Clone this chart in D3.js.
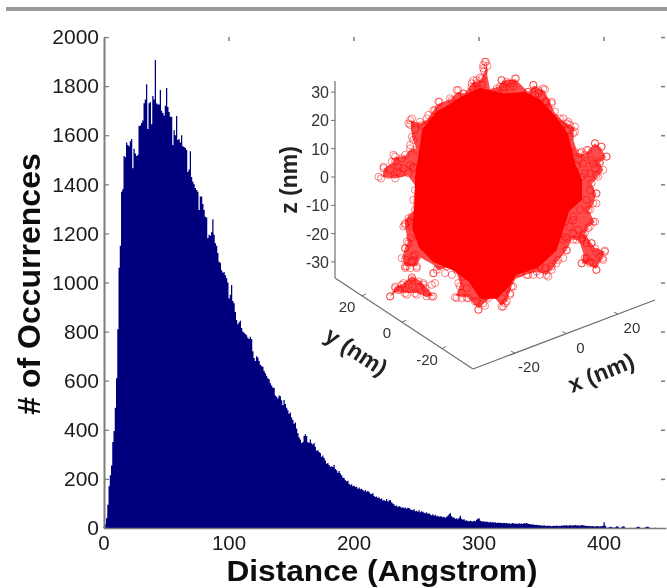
<!DOCTYPE html>
<html><head><meta charset="utf-8">
<script src="https://cdn.jsdelivr.net/npm/d3@7"></script>
<style>html,body{margin:0;padding:0;background:#fff}svg{display:block}text{font-family:"Liberation Sans",Arial,sans-serif}</style>
</head><body><svg id="c" width="667" height="588"></svg>
<script>
const binCounts=[5,15,40,95,170,215,255,350,395,490,610,810,1060,1150,1370,1380,1515,1510,1570,1560,
1555,1575,1585,1465,1545,1525,1515,1520,1637,1640,1650,1660,1730,1745,1808,1625,1730,1735,1645,1760,
1745,1906,1730,1725,1725,1784,1700,1690,1680,1720,1792,1715,1695,1675,1675,1560,1620,1600,1678,1580,
1585,1570,1600,1555,1552,1548,1540,1450,1460,1535,1430,1410,1400,1385,1377,1370,1295,1350,1350,1320,
1295,1268,1265,1180,1195,1190,1205,1258,1195,1160,1150,1120,1085,1080,1050,1040,1043,1030,1018,1000,
935,950,990,925,915,880,847,830,838,844,815,800,795,790,785,775,770,779,770,720,
692,680,700,695,680,665,660,657,640,630,620,610,606,590,580,572,570,540,535,528,
540,537,520,500,521,505,490,480,465,470,450,440,425,430,405,386,370,360,346,350,
375,382,375,350,346,360,345,340,346,330,315,318,310,305,290,295,285,275,262,265,
257,250,252,248,257,240,235,225,232,222,215,205,204,195,190,192,180,175,178,170,
172,167,168,160,165,158,160,155,150,155,148,152,147,140,138,142,130,126,128,122,
125,118,120,112,114,110,118,108,112,114,105,100,96,90,92,86,90,87,82,85,
80,84,78,82,81,75,74,72,76,68,70,66,72,64,68,66,62,60,64,58,
60,55,52,56,50,54,48,50,46,48,47,44,46,42,46,50,56,60,48,44,
42,38,40,36,42,50,38,34,36,30,32,28,27,30,28,26,30,28,34,38,
40,30,28,26,27,24,26,24,22,25,22,24,21,23,20,22,20,21,20,19,
21,19,20,18,19,17,18,20,18,17,18,16,19,17,18,16,20,18,20,17,
16,15,14,15,13,12,13,11,12,10,10,9,11,9,8,10,8,9,7,8,
9,8,10,7,9,8,10,9,11,10,11,9,10,12,9,11,10,12,10,11,
9,10,12,11,10,9,8,9,7,8,7,8,6,7,7,8,6,7,7,9,
23,9,2,1,3,5,4,1,2,3,7,6,2,0,3,7,6,1,0,0,
0,1,0,0,1,0,3,5,5,1,0,0,1,2,5,5,3,0,0,0,
0,1,0,0,0,0,0,0,0,0];
const xTickValues=[0,100,200,300,400];
const yTickValues=[0,200,400,600,800,1000,1200,1400,1600,1800,2000];
const zTickValues=[-30,-20,-10,0,10,20,30];
const floorXTicks=[-20,0,20];
const floorYTicks=[-20,0,20];
const xTitle="Distance (Angstrom)";
const yTitle="# of Occurrences";
const coreOutline=[[-26.5,0],[-25,9.5],[-24,16.6],[-19,23],[-13,26.5],[-10,28.5],[-3.5,31.5],[4.7,29.5],[12.4,30],[17.6,27.5],[23.5,21],[27.5,15.4],[29,9.5],[30,4.8],[32.5,-1],[32.5,-8.1],[28,-12],[25.5,-19.9],[23.5,-26],[17,-32],[9.4,-34.5],[6.5,-39],[2.4,-43],[-3.5,-43],[-7.5,-37],[-13,-33],[-20,-30],[-25,-25],[-27.5,-18.1],[-26.5,-8.1]];
const fringeOutline=[[-2,37],[-3.5,34],[-6,33.5],[-9,29.5],[-11.5,30],[-14,27.5],[-18,26],[-20,23.5],[-22,20.5],[-24.5,19],[-28,20],[-27.5,14],[-26,10],[-28,10],[-30,7.5],[-33.5,7],[-34.5,5],[-37.5,3],[-38,0],[-33.5,-0.5],[-29,0.5],[-26.5,-3],[-27,-8],[-27,-12],[-30,-15],[-30,-17.5],[-29,-23],[-30,-25],[-31,-28.5],[-30,-31.5],[-26,-31.5],[-24.5,-28.5],[-20,-31],[-18.5,-33],[-15,-32],[-12,-33],[-10.5,-38],[-12,-42],[-8,-42.5],[-4,-46.5],[-1.5,-44],[1,-42],[4,-45.5],[6,-44],[7.5,-39],[9,-36],[12.5,-34.5],[16.5,-33.5],[20,-34.5],[22,-32.5],[24.5,-29],[27,-26],[29,-22],[31.5,-22.5],[33,-27],[32.5,-30.5],[35,-31],[37.5,-32.5],[39.5,-29],[40.5,-26.3],[37,-25],[35.5,-23],[33.5,-20],[35,-17.5],[37,-16],[35,-12],[36.5,-9.5],[37.5,-6],[36,-2.5],[38,0],[40,2.5],[38.8,5],[41,7],[39,10.5],[37,11.8],[33.5,8],[31,8.5],[29.5,13],[29.5,15.5],[30,17.5],[27,19],[25,20.5],[22.7,23],[21.5,26],[19.2,30.5],[15.5,32.3],[13.5,30],[9,34.5],[4.5,34],[3,32],[0,31],[-1,36],[-1,39.5]];
const islandOutline=[[-35.3,-42.2],[-33.5,-39],[-31,-37.8],[-27.6,-35],[-25,-36.5],[-22.5,-39],[-20,-42],[-22.5,-42.3],[-26,-41],[-30,-41],[-33,-40.5]];
const walkerPoints=[[-1.4,40.7],[-2.4,39.5],[-0.9,39.2],[-2.1,37.5],[-3.5,35.2],[-5.9,34.2],[-4.7,33.1],[-6.5,31.9],[-2.9,32.5],[-4.1,31.3],
[4.1,34.2],[5.9,33.6],[7.6,33.1],[9.2,34.8],[7.1,31.9],[3.5,31.9],[4.7,30.7],[2.4,31.3],[15.3,32.5],[17.1,30.7],[19.4,30.9],[13.5,30.1],[11.8,28.9],[15.9,28.9],[18.2,28.1],[21.8,26],[19.4,26.6],[22.9,23.1],[25.9,20.7],[28.2,18.4],[30,17.8],[29.4,15.4],[27.1,18.9],[25.3,16.6],
[30,8.9],[32.4,8.9],[31.2,6],[33.5,7.8],[37.1,11.9],[39.4,10.7],[41.2,7.2],[38.8,5.4],[40,2.5],[37.1,3.1],[38.2,0.1],[35.9,-2.2],[37.6,-5.8],[36.5,-9.3],[34.7,-11.6],[37.1,-15.8],[35.3,-17.5],[33.5,-19.9],[32.4,-22.2],[35.9,-23.4],[37.1,-25.2],[40.6,-26],[39.8,-28.7],[37.6,-32.8],[35.3,-30.5],[32.4,-30.5],[33.5,-28.7],[29.4,-22.2],[27.1,-26],[26.5,-21.1],[28.2,-17.5],[31.2,-18.7],[29.4,-14],[32.4,0.1],[30,-6.9],[33.5,1.3],[35.9,6],[34.7,9.5],[28.8,8.4],[30,1.9],
[-38.5,-0.5],[-37.6,3.1],[-35.9,0.7],[-33.5,7.2],[-34.7,5.4],[-32.4,3.6],[-30,7.8],[-27.1,3.6],[-31.8,1.3],[-28.8,1.3],[-33.5,-0.5],
[-28.2,20.1],[-26.5,17.2],[-28.8,18.9],[-27.6,14.2],[-22.4,20.7],[-24.1,18.4],[-18.2,26.6],[-20,23.6],[-25.9,9.5],[-28.2,11.3],[-11.8,30.7],[-9.4,29.5],[-14.1,27.8],
[-30,-16.9],[-27.6,-14],[-28.8,-23.4],[-30,-25.2],[-31.2,-28.7],[-30,-31.6],[-27.1,-28.1],[-25.9,-31.6],[-27.6,-29.9],[-28.2,-15.8],[-25.3,-21.1],
[-35.3,-42.2],[-33.5,-39.3],[-31.2,-38.1],[-27.6,-35.4],[-25.3,-36.9],[-22.9,-39.3],[-20,-42.2],[-30,-41.1],[-26.5,-41.1],[-22.4,-42.2],[-31.8,-39.9],[-28.8,-38.1],[-23.5,-37.5],[-20,-34],[-20.6,-38.1],
[-12.4,-42.5],[-10,-42.8],[-7.6,-42.8],[-4.1,-46.9],[-2.4,-44.6],[-5.3,-44],[-0.6,-42.8],[4.1,-45.8],[5.3,-44.6],[7.6,-38.7],[7.1,-41.1],[-10.6,-38.7],[-9.4,-35.2],[-11.8,-32.8],[-15.3,-31.6],[-18.8,-32.8],[5.9,-39.3],[2.4,-41.1],
[13.5,-34.6],[16.5,-33.4],[20,-34.6],[21.8,-32.8],[24.1,-29.3],[10.6,-34],[17.6,-31.6],
[-37.6,3.6],[-39.4,0.1],[-34.1,7.8],[-31.2,6.6],[-28.2,4.2],[-27.1,3.1],[-33.5,5.4],[-35.3,2.5],[-30.6,3.1],[-32.9,1.9],[-28.2,10.1],[-27.1,13.1],[-27.6,20.7],[-26.5,16.6],[-28.2,18.4],[-24.7,19.5],[-21.8,21.9],[-22.9,17.8],[-20.6,19.5],[-19.4,23.6],[-17.9,26.6],[-18.2,24.2],[-13.5,27.2],[-11.2,30.7],[-9.4,29.5],[-11.8,26],[-6.5,33.1],[-4.7,34.2],[-2.9,34.8],[-5.9,31.3],[-1.8,40.7],[-2.4,38.4],
[4.1,34.2],[6.5,33.1],[8.8,34.8],[4.7,31.9],[8.2,31.9],[5.3,29.5],[15.3,32.5],[18.8,31.3],[13.5,30.1],[17.1,29.5],[20,26.6],[21.8,26.6],[19.4,24.2],[24.7,20.7],[27.6,19.5],[30,16],[27.1,16.6],[25.3,17.8],[28.2,14.2],[31.8,8.4],[34.1,9.5],[37.1,11.9],[39.4,10.7],[41.2,7.2],[38.8,4.8],[36.5,4.8],[35.3,1.3],[37.6,0.7],[32.9,4.8],[30.6,4.2],
[37.6,-5.8],[35.3,-4.6],[34.1,-8.1],[37.6,-9.3],[35.3,-11.6],[31.8,-11.6],[29.4,-15.2],[26.5,-15.8],[36.5,-15.8],[34.7,-18.1],[32.9,-20.5],[35.9,-23.4],[34.1,-23.4],[32.4,-21.6],[30.6,-22.2],[27.1,-25.8],[25.9,-22.2],[27.1,-21.6],[29.4,-19.9],[37.6,-26.4],[40.6,-26.4],[40,-29.3],[37.6,-32.8],[35.3,-29.9],[32.4,-30.5],[34.1,-28.7],[36.5,-30.5],[38.8,-28.1],
[25.9,-28.7],[23.5,-30.5],[20.6,-35.2],[17.6,-34.6],[15.3,-34.6],[12.9,-34.6],[19.4,-32.2],[21.8,-31.6],
[8.2,-38.7],[7.1,-41.6],[4.7,-45.8],[5.9,-44],[4.1,-42.8],[-1.8,-45.5],[-4.1,-46.9],[-4.7,-44],[-1.2,-42.2],[-8.2,-42.8],[-11.8,-42.8],[-10,-41],[-11.2,-37.5],[-8.2,-39.3],[-13.5,-34.6],[-15.9,-34],
[-20,-34],[-19.4,-37.5],[-20.6,-42.2],[-22.4,-41],[-24.7,-38.7],[-27.6,-35.8],[-30.6,-37.5],[-33.5,-38.7],[-35.3,-42.2],[-29.4,-41.6],[-25.9,-41.6],[-32.4,-39.9],[-27.6,-38.7],[-23.5,-38.1],[-30,-32.2],[-28.2,-32.2],[-30,-29.1],[-29.4,-31.6],[-25.9,-32.2],[-27.1,-29.3],[-30,-25.2],[-29.4,-22.8],[-28.2,-21.6],[-26.5,-27.5],[-30.6,-17.5],[-28.8,-14.6],[-30,-16.4],[-27.6,-17.5],[-27.1,-8.1],[-26.5,-11.6],[-26.5,-4.6]];

const svg=d3.select("#c");
const defs=svg.append("defs");
defs.append("filter").attr("id","soft").attr("x","0").attr("y","0").attr("width","1").attr("height","1")
  .attr("filterUnits","objectBoundingBox").append("feGaussianBlur").attr("stdDeviation",0.6);
const root=svg.append("g").attr("filter","url(#soft)");
root.append("rect").attr("width",667).attr("height",588).attr("fill","#fff");
root.append("rect").attr("x",6).attr("y",7).attr("width",661).attr("height",4).attr("fill","#999");

const x=d3.scaleLinear().domain([0,450]).range([103.5,666]);
const y=d3.scaleLinear().domain([0,2000]).range([528,37]);
const gray="#7d7d7d";
function styleAxis(g,size){g.selectAll("path,line").attr("stroke",gray);g.selectAll("text").attr("fill","#1a1a1a").attr("font-size",size);}

root.append("g").attr("transform","translate(665,0)").call(d3.axisRight(y).tickValues(yTickValues.slice(1)).tickSize(-4).tickFormat("")).call(g=>{g.select(".domain").remove();g.selectAll("line").attr("stroke",gray).attr("stroke-width",1.5)});
root.append("g").attr("transform","translate(0,37)").call(d3.axisTop(x).tickValues(xTickValues.slice(1)).tickSize(-4).tickFormat("")).call(g=>{g.select(".domain").remove();g.selectAll("line").attr("stroke",gray).attr("stroke-width",1.5)});

root.append("path").datum(binCounts.concat([0]))
  .attr("d",d3.area().x((d,i)=>x(i)).y0(y(0)).y1(d=>y(d)).curve(d3.curveStepAfter))
  .attr("fill","#00007f");

root.append("g").attr("transform","translate(104,0)")
  .call(d3.axisLeft(y).tickValues(yTickValues).tickSize(-5).tickSizeOuter(0).tickPadding(5).tickFormat(d3.format("d")))
  .call(g=>{styleAxis(g,21);g.select(".domain").attr("stroke-width",2);g.selectAll("line").attr("stroke-width",1.2);});
root.append("g").attr("transform","translate(0,528)")
  .call(d3.axisBottom(x).tickValues(xTickValues).tickSize(0).tickSizeOuter(0).tickPadding(7).tickFormat(d3.format("d")))
  .call(g=>{styleAxis(g,20.5);g.select(".domain").attr("stroke-width",1.6);});

root.append("text").text(xTitle).attr("x",382).attr("y",581).attr("text-anchor","middle").attr("font-size",30).attr("textLength",311).attr("lengthAdjust","spacingAndGlyphs").attr("font-weight","bold").attr("fill","#111");
root.append("text").text(yTitle).attr("transform","translate(40,284) rotate(-90)").attr("text-anchor","middle").attr("font-size",32).attr("font-weight","bold").attr("fill","#111");

const u=d3.scaleLinear().domain([0,10]).range([490,518.3]);
const v=d3.scaleLinear().domain([0,10]).range([177,148.7]);
const inset=root.append("g");
const axisStroke="#6f6f6f";
const insetText="#333";
inset.append("line").attr("x1",335).attr("x2",335).attr("y1",81).attr("y2",278).attr("stroke",axisStroke).attr("stroke-width",1.2);
inset.append("line").attr("x1",335).attr("y1",278).attr("x2",473).attr("y2",369).attr("stroke",axisStroke).attr("stroke-width",1.2);
inset.append("line").attr("x1",473).attr("y1",369).attr("x2",655).attr("y2",300).attr("stroke",axisStroke).attr("stroke-width",1.2);
inset.append("g").selectAll("line").data(zTickValues).join("line").attr("x1",335).attr("x2",331).attr("y1",d=>v(d)).attr("y2",d=>v(d)).attr("stroke",axisStroke);
inset.append("g").selectAll("text").data(zTickValues).join("text").text(d=>d).attr("x",329).attr("y",d=>v(d)+6).attr("text-anchor","end").attr("font-size",16).attr("fill",insetText);
const fxX=d3.scaleLinear().domain([-36.3,34.4]).range([473,655]);
const fxY=d3.scaleLinear().domain([-36.3,34.4]).range([369,300]);
const fyX=d3.scaleLinear().domain([-35.5,33.5]).range([473,335]);
const fyY=d3.scaleLinear().domain([-35.5,33.5]).range([369,278]);
inset.append("g").selectAll("line").data(floorXTicks).join("line").attr("x1",d=>fxX(d)).attr("y1",d=>fxY(d)).attr("x2",d=>fxX(d)-4).attr("y2",d=>fxY(d)-2).attr("stroke",axisStroke);
inset.append("g").selectAll("line").data(floorYTicks).join("line").attr("x1",d=>fyX(d)).attr("y1",d=>fyY(d)).attr("x2",d=>fyX(d)+4).attr("y2",d=>fyY(d)-2).attr("stroke",axisStroke);
inset.append("g").selectAll("text").data(floorXTicks).join("text").text(d=>d).attr("x",d=>fxX(d)+14).attr("y",d=>fxY(d)+19).attr("text-anchor","middle").attr("font-size",15).attr("fill",insetText);
inset.append("g").selectAll("text").data(floorYTicks).join("text").text(d=>d).attr("x",d=>fyX(d)-15).attr("y",d=>fyY(d)+16).attr("text-anchor","middle").attr("font-size",15).attr("fill",insetText);
inset.append("text").text("z (nm)").attr("transform","translate(297,180) rotate(-90)").attr("text-anchor","middle").attr("font-size",23).attr("font-weight","bold").attr("fill","#222");
inset.append("text").text("y (nm)").attr("transform","translate(352,358) rotate(33)").attr("text-anchor","middle").attr("font-size",23).attr("font-weight","bold").attr("fill","#222");
inset.append("text").text("x (nm)").attr("transform","translate(604,380) rotate(-22)").attr("text-anchor","middle").attr("font-size",23).attr("font-weight","bold").attr("fill","#222");

const outline=d3.line().x(d=>u(d[0])).y(d=>v(d[1])).curve(d3.curveLinearClosed);
inset.selectAll("path.fringe").data([fringeOutline,islandOutline]).join("path").attr("class","fringe").attr("d",outline).attr("fill","#ff0000").attr("fill-opacity",0.7);
inset.append("path").attr("d",outline(coreOutline)).attr("fill","#ff0000");
inset.append("g").selectAll("circle").data(walkerPoints).join("circle")
  .attr("cx",d=>u(d[0])).attr("cy",d=>v(d[1])).attr("r",3.6).attr("fill","none").attr("stroke","#ff0000").attr("stroke-width",0.9).attr("stroke-opacity",0.55);
</script></body></html>
